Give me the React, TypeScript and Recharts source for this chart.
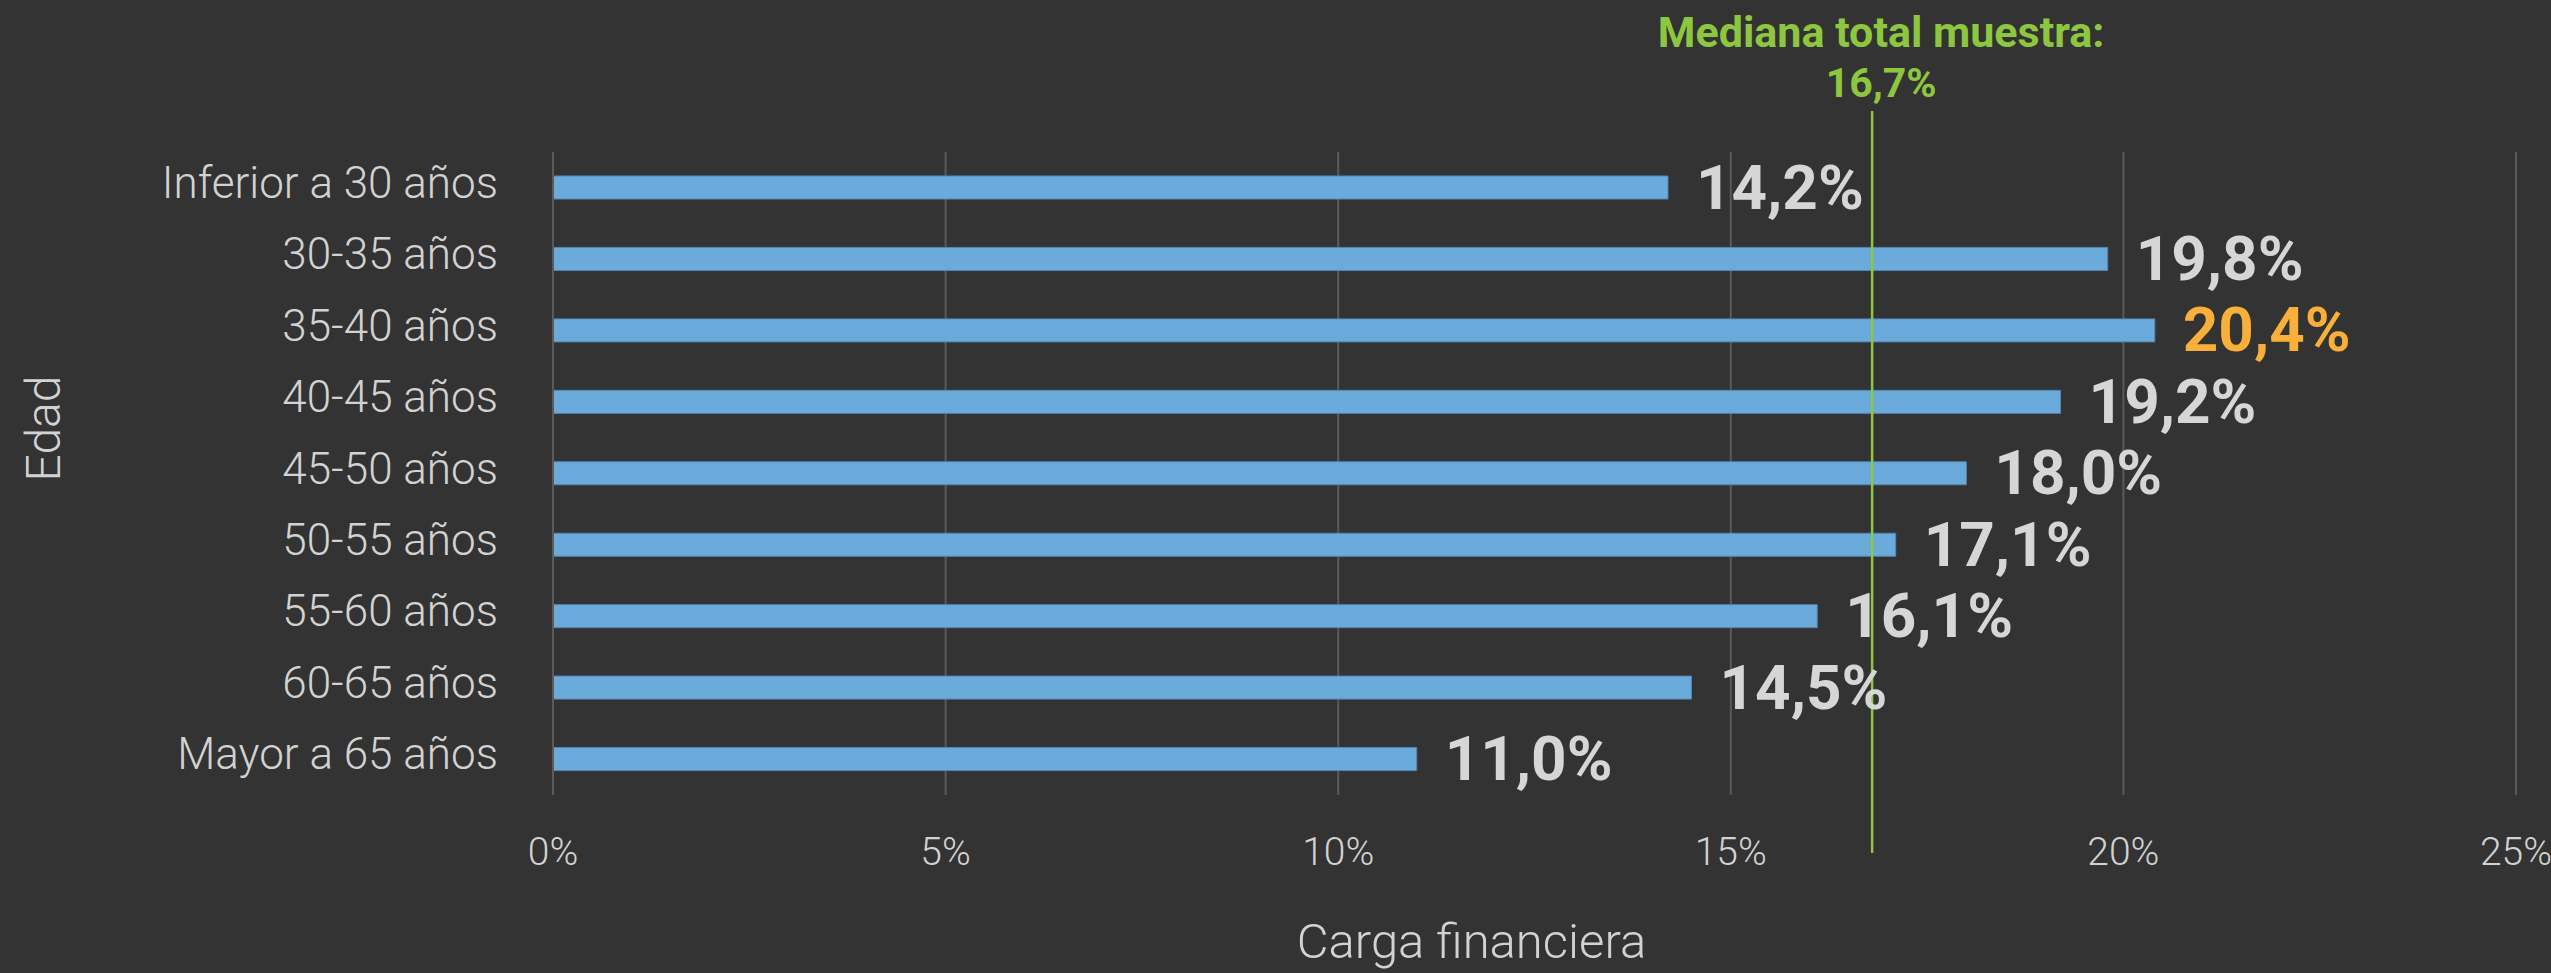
import React from 'react';
import {
  BarChart,
  Bar,
  XAxis,
  YAxis,
  CartesianGrid,
  ReferenceLine,
  LabelList,
} from 'recharts';

if (typeof document !== 'undefined') {
  document.body.style.margin = '0';
  document.body.style.background = '#333333';
}

// ---- data ----
const categories = [
  'Inferior a 30 años',
  '30-35 años',
  '35-40 años',
  '40-45 años',
  '45-50 años',
  '50-55 años',
  '55-60 años',
  '60-65 años',
  'Mayor a 65 años',
];
const values = [14.2, 19.8, 20.4, 19.2, 18.0, 17.1, 16.1, 14.5, 11.0];
const highlightCategory = '35-40 años';
const xTicks = [0, 5, 10, 15, 20, 25];
const medianLineValue = 16.8;
const medianTitle = 'Mediana total muestra:';
const medianText = '16,7%';
const xAxisTitle = 'Carga financiera';
const yAxisTitle = 'Edad';

const data = categories.map((c, i) => ({ name: c, value: values[i] }));

// ---- styles ----
const FONT = 'Roboto, "Noto Sans", sans-serif';
const BG = '#333333';
const BAR = '#6aabdc';
const GRID = '#5a5a5a';
const TEXT = '#d2d2d2';
const LABEL = '#d6d6d6';
const ORANGE = '#f9b03a';
const GREEN = '#8dc63f';

const fmt = (v: number) => v.toFixed(1).replace('.', ',') + '%';

const YTick = (props: any) => {
  const { x, y, payload } = props;
  return (
    <text
      x={x - 55}
      y={y + 10}
      textAnchor="end"
      fill={TEXT}
      fontFamily={FONT}
      fontWeight={300}
      fontSize={44}
    >
      {payload.value}
    </text>
  );
};

const XTick = (props: any) => {
  const { x, y, payload } = props;
  return (
    <text
      x={x}
      y={y + 70}
      textAnchor="middle"
      fill={TEXT}
      fontFamily={FONT}
      fontWeight={300}
      fontSize={39}
    >
      {payload.value + '%'}
    </text>
  );
};

const ValueLabel = (props: any) => {
  const { x, y, width, height, value, index } = props;
  const isHi = categories[index] === highlightCategory;
  return (
    <text
      x={x + width + 28}
      y={y + height / 2 + 21}
      textAnchor="start"
      fill={isHi ? ORANGE : LABEL}
      fontFamily={FONT}
      fontWeight={700}
      fontSize={62}
    >
      {fmt(value)}
    </text>
  );
};

const MedianShape = (props: any) => {
  const { x1, y1, y2 } = props;
  const top = Math.min(y1, y2);
  const bottom = Math.max(y1, y2);
  return (
    <g>
      <line x1={x1} x2={x1} y1={top - 41} y2={bottom + 58} stroke={GREEN} strokeWidth={2.5} />
      <text
        x={x1 + 9}
        y={47}
        textAnchor="middle"
        fill={GREEN}
        fontFamily={FONT}
        fontWeight={700}
        fontSize={43}
      >
        {medianTitle}
      </text>
      <text
        x={x1 + 9}
        y={97}
        textAnchor="middle"
        fill={GREEN}
        fontFamily={FONT}
        fontWeight={700}
        fontSize={41}
      >
        {medianText}
      </text>
    </g>
  );
};

const XTitle = (props: any) => {
  const { viewBox } = props;
  const cx = viewBox.x + viewBox.width / 2 - 63;
  return (
    <text
      x={cx}
      y={viewBox.y + 163}
      textAnchor="middle"
      fill={TEXT}
      fontFamily={FONT}
      fontWeight={300}
      fontSize={49}
    >
      {xAxisTitle}
    </text>
  );
};

const YTitle = (props: any) => {
  const { viewBox } = props;
  const cy = viewBox.y + viewBox.height / 2 - 45;
  const bx = 60;
  return (
    <text
      x={bx}
      y={cy}
      textAnchor="middle"
      transform={`rotate(-90 ${bx} ${cy})`}
      fill={TEXT}
      fontFamily={FONT}
      fontWeight={300}
      fontSize={48}
    >
      {yAxisTitle}
    </text>
  );
};

export default function App() {
  return (
    <div style={{ width: 2551, height: 973, background: BG }}>
      <BarChart
        width={2551}
        height={973}
        data={data}
        layout="vertical"
        margin={{ top: 152, right: 35, bottom: 0, left: 0 }}
        style={{ background: BG }}
      >
        <CartesianGrid horizontal={false} vertical={true} stroke={GRID} strokeWidth={2} />
        <XAxis
          type="number"
          domain={[0, 25]}
          ticks={xTicks}
          interval={0}
          height={178}
          axisLine={false}
          tickLine={false}
          tickSize={0}
          tickMargin={0}
          tick={<XTick />}
          label={{ content: <XTitle /> } as any}
        />
        <YAxis
          type="category"
          dataKey="name"
          width={553}
          axisLine={{ stroke: GRID, strokeWidth: 2 }}
          tickLine={false}
          tickSize={0}
          tickMargin={0}
          interval={0}
          tick={<YTick />}
          label={{ content: <YTitle /> } as any}
        />
        <Bar
          dataKey="value"
          fill={BAR}
          stroke="#5586b3"
          strokeWidth={1}
          barSize={23}
          isAnimationActive={false}
        >
          <LabelList dataKey="value" content={<ValueLabel />} />
        </Bar>
        <ReferenceLine x={medianLineValue} stroke={GREEN} shape={<MedianShape />} />
      </BarChart>
    </div>
  );
}
